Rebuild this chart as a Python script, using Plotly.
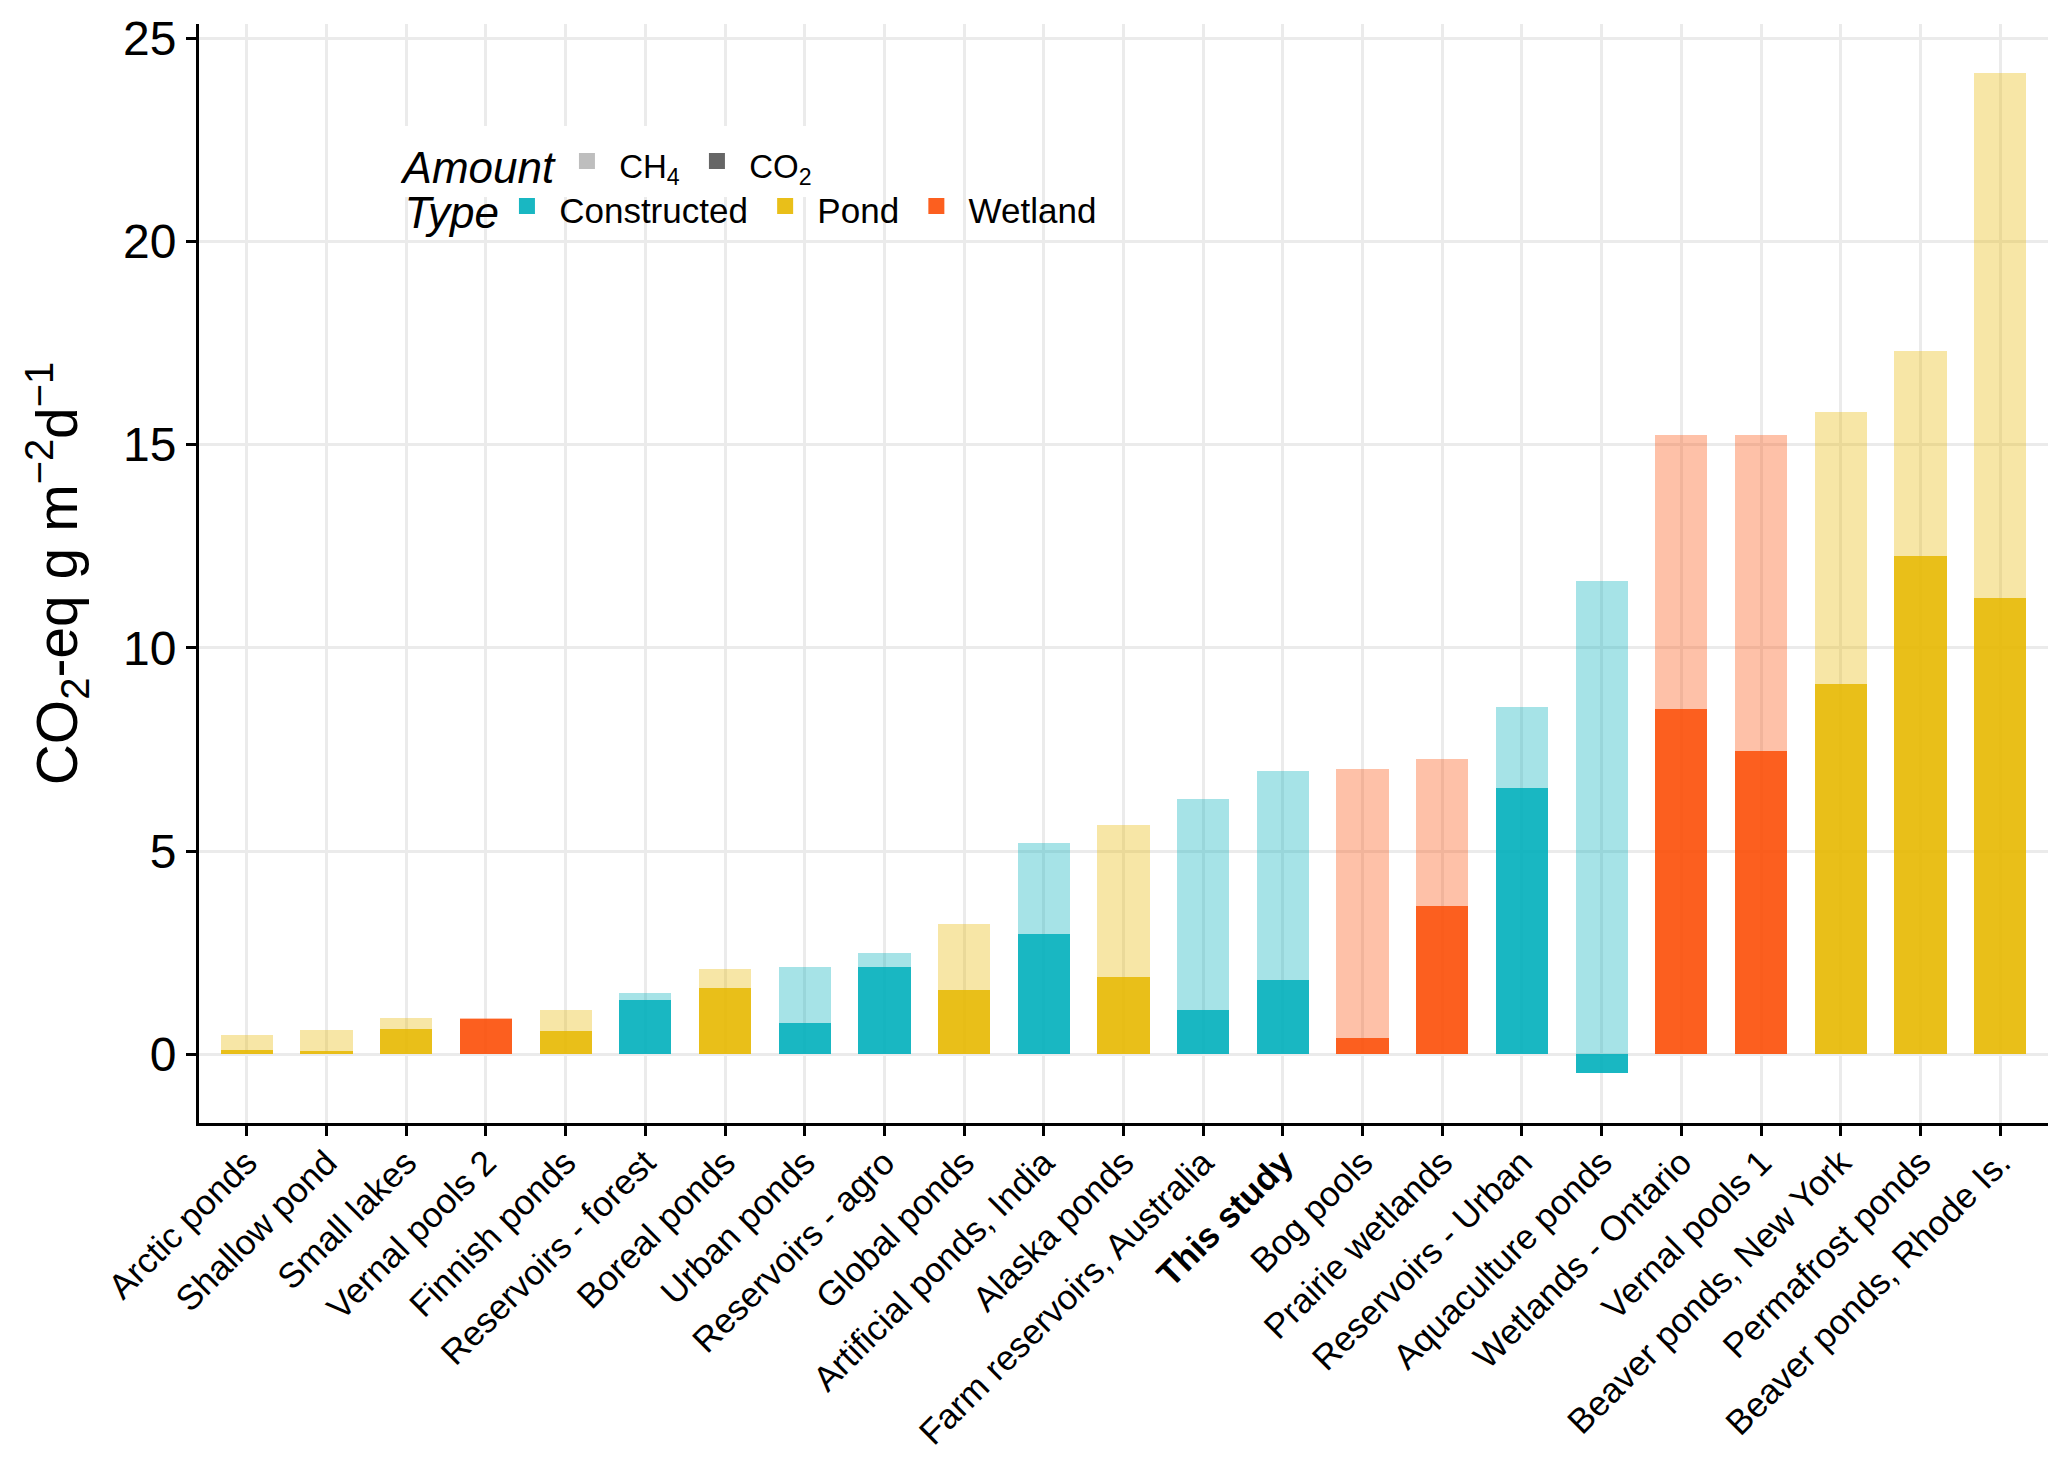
import plotly.graph_objects as go

categories = ["Arctic ponds", "Shallow pond", "Small lakes", "Vernal pools 2", "Finnish ponds",
              "Reservoirs - forest", "Boreal ponds", "Urban ponds", "Reservoirs - agro", "Global ponds",
              "Artificial ponds, India", "Alaska ponds", "Farm reservoirs, Australia", "This study",
              "Bog pools", "Prairie wetlands", "Reservoirs - Urban", "Aquaculture ponds",
              "Wetlands - Ontario", "Vernal pools 1", "Beaver ponds, New York", "Permafrost ponds",
              "Beaver ponds, Rhode Is."]
types = ["Pond", "Pond", "Pond", "Wetland", "Pond",
         "Constructed", "Pond", "Constructed", "Constructed", "Pond",
         "Constructed", "Pond", "Constructed", "Constructed",
         "Wetland", "Wetland", "Constructed", "Constructed",
         "Wetland", "Wetland", "Pond", "Pond", "Pond"]
co2 = [0.10, 0.07, 0.63, 0.87, 0.57, 1.34, 1.62, 0.77, 2.14, 1.59, 2.96, 1.90, 1.08, 1.82,
       0.41, 3.65, 6.55, -0.46, 8.49, 7.47, 9.11, 12.26, 11.23]
total = [0.47, 0.60, 0.90, 0.89, 1.10, 1.52, 2.10, 2.14, 2.50, 3.21, 5.19, 5.63, 6.28, 6.96,
         7.01, 7.26, 8.54, 11.64, 15.25, 15.25, 15.80, 17.30, 24.14]
ch4 = [round(t - max(c, 0), 2) for t, c in zip(total, co2)]

tick_labels = [("<b>%s</b>" % c) if c == "This study" else c for c in categories]

type_order = ["Constructed", "Pond", "Wetland"]
type_rgb = {"Constructed": (0, 175, 187), "Pond": (231, 184, 0), "Wetland": (252, 78, 7)}
alpha = {"CO2": 0.9, "CH4": 0.35}
amount_labels = {"CH4": "CH<sub>4</sub>", "CO2": "CO<sub>2</sub>"}
amount_swatch = {"CH4": "#BEBEBE", "CO2": "#666666"}

FONT = "Arial, Liberation Sans, sans-serif"
NB = "\u00a0"

fig = go.Figure()
for amount, vals in [("CO2", co2), ("CH4", ch4)]:
    for t in type_order:
        r, g, b = type_rgb[t]
        y = [v if tt == t else None for v, tt in zip(vals, types)]
        fig.add_trace(go.Bar(
            x=categories, y=y, width=0.655, showlegend=False,
            marker=dict(color="rgba(%d,%d,%d,%.2f)" % (r, g, b, alpha[amount]), line=dict(width=0)),
            name="%s %s" % (t, amount),
        ))

# Legend entries
for amount in ["CH4", "CO2"]:
    fig.add_trace(go.Scatter(
        x=[None], y=[None], mode="markers",
        name='%s<span style="font-size:33px">%s</span>%s' % (NB, amount_labels[amount], NB),
        marker=dict(symbol="square", size=16, color=amount_swatch[amount]), legend="legend"))
for t in type_order:
    r, g, b = type_rgb[t]
    fig.add_trace(go.Scatter(
        x=[None], y=[None], mode="markers",
        name='%s<span style="font-size:35px">%s</span>%s' % (NB, t, NB),
        marker=dict(symbol="square", size=16, color="rgba(%d,%d,%d,0.9)" % (r, g, b)),
        legend="legend2"))

fig.update_layout(
    width=2067, height=1474,
    margin=dict(l=199, r=19, t=24, b=351),
    paper_bgcolor="white", plot_bgcolor="white",
    barmode="relative", bargap=0,
    font=dict(family=FONT, color="black"),
    legend=dict(orientation="h", x=0.109, xanchor="left", y=0.875, yanchor="middle",
                title=dict(text="<i>Amount</i>", side="left", font=dict(size=44)),
                font=dict(size=44), bgcolor="white", borderwidth=0, itemwidth=30),
    legend2=dict(orientation="h", x=0.110, xanchor="left", y=0.834, yanchor="middle",
                 title=dict(text="<i>Type</i>", side="left", font=dict(size=44)),
                 font=dict(size=44), bgcolor="rgba(255,255,255,0)", borderwidth=0, itemwidth=30),
)

fig.update_xaxes(
    type="category", categoryorder="array", categoryarray=categories,
    tickmode="array", tickvals=categories, ticktext=tick_labels,
    range=[-0.6, 22.6], tickangle=-45, tickfont=dict(size=35, color="black"),
    ticklabelstandoff=-8,
    showgrid=True, gridcolor="#EBEBEB", gridwidth=3,
    showline=True, linecolor="black", linewidth=3,
    ticks="outside", ticklen=10, tickwidth=3, tickcolor="black",
)
fig.update_yaxes(
    range=[-1.69, 25.35], tickvals=[0, 5, 10, 15, 20, 25],
    tickfont=dict(size=48, color="black"),
    showgrid=True, gridcolor="#EBEBEB", gridwidth=3, zeroline=False,
    showline=True, linecolor="black", linewidth=3,
    ticks="outside", ticklen=10, tickwidth=3, tickcolor="black",
    title=dict(text="CO<sub>2</sub>-eq g m<sup>−2</sup>d<sup>−1</sup>", font=dict(size=57), standoff=28),
)

fig.write_html("out.html", config={"displayModeBar": False},
               post_script="document.body.style.margin='0';")
